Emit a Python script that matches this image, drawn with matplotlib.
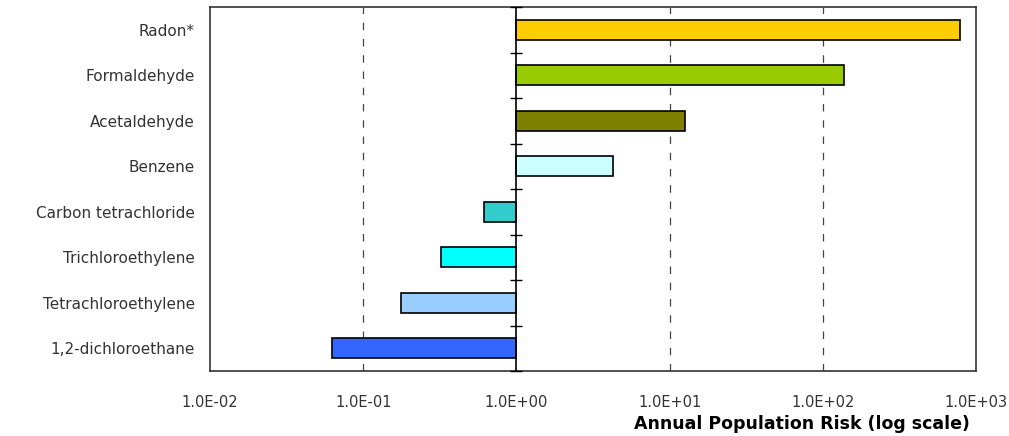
import numpy as np
import matplotlib.pyplot as plt
from matplotlib.ticker import FixedLocator, NullLocator

# Risk values (log scale, bars grow from 1.0)
compounds = ['Radon*', 'Formaldehyde', 'Acetaldehyde', 'Benzene',
             'Carbon tetrachloride', 'Trichloroethylene',
             'Tetrachloroethylene', '1,2-dichloroethane']
risk = [785, 138, 12.6, 4.25, 0.61, 0.32, 0.177, 0.063]
colors = ['#FFCC00', '#99CC00', '#808000', '#CCFFFF',
          '#33CCCC', '#00FFFF', '#99CCFF', '#3366FF']
xticks = [1e-2, 1e-1, 1e0, 1e1, 1e2, 1e3]
xticklabels = ['1.0E-02', '1.0E-01', '1.0E+00', '1.0E+01', '1.0E+02', '1.0E+03']

fig = plt.figure(figsize=(10.09, 4.36), dpi=100)
ax = fig.add_axes([210/1009, 1-371/436, (976-210)/1009, (371-7)/436])

pos = np.arange(len(compounds))
vals = np.array(risk)
base = 1.0
left = np.minimum(vals, base)
width = np.abs(vals - base)
ax.barh(pos, width, left=left, height=0.44, color=colors,
        edgecolor='black', linewidth=1.2, zorder=3)

ax.set_xscale('log')
ax.set_xlim(1e-2, 1e3)
ax.set_ylim(len(compounds) - 0.5, -0.5)

# dashed grid at decades, solid axis line at 1.0
for t in xticks[1:-1]:
    if t == base:
        continue
    ax.axvline(t, color='#444444', linestyle=(0, (6, 7)), linewidth=0.9, zorder=1)
ax.axvline(base, color='black', linewidth=1.2, zorder=4)

# category boundary ticks on the crossing axis
bounds = np.arange(len(compounds) + 1) - 0.5
ax.plot(np.full(len(bounds), base), bounds, linestyle='none', marker='_',
        markersize=9, markeredgewidth=1.0, color='black', zorder=4, clip_on=False)

ax.xaxis.set_major_locator(FixedLocator(xticks))
ax.xaxis.set_minor_locator(NullLocator())
ax.set_xticklabels(xticklabels)
ax.tick_params(axis='x', length=0, pad=17, labelsize=10.5, colors='#333333')
ax.set_yticks(pos)
ax.set_yticklabels(compounds)
ax.tick_params(axis='y', length=0, pad=11, labelsize=11, colors='#333333')

for s in ax.spines.values():
    s.set_linewidth(1.2)
    s.set_color('#333333')

fig.text(970/1009, 1-424/436, 'Annual Population Risk (log scale)', ha='right',
         va='center', fontsize=12.5, fontweight='bold', color='black')

fig.savefig('out.png', dpi=100)
